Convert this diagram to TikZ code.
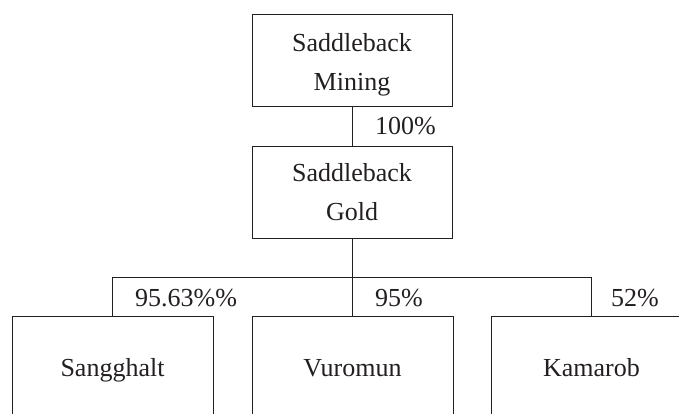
\documentclass[tikz,border=0pt]{standalone}
\usepackage{fontspec}
\setmainfont{Liberation Serif}
\definecolor{ink}{RGB}{35,31,32}
\begin{document}
\begin{tikzpicture}[x=1pt,y=-1pt,
  every node/.style={text=ink},
  box/.style={draw=ink, line width=1pt, minimum width=200pt, minimum height=92pt, inner sep=0pt},
  lowbox/.style={draw=ink, line width=1pt, minimum width=201pt, anchor=north, inner ysep=0pt, inner xsep=0pt, text height=60pt, text depth=55pt},
  boxtext/.style={font=\fontsize{26}{38}\selectfont, align=center},
  pct/.style={font=\fontsize{26}{30}\selectfont, anchor=base west, inner sep=0pt},
  link/.style={draw=ink, line width=1pt}]
\useasboundingbox (0,0) rectangle (679,414);
\node[box] (sm) at (352.5,61) {};
\node[boxtext, anchor=base] (smt1) at (352,52) {Saddleback};
\node[boxtext, anchor=base] (smt2) at (352,90.3) {Mining};
\node[box] (sg) at (352.5,192.5) {};
\node[boxtext, anchor=base] (sgt1) at (352,182) {Saddleback};
\node[boxtext, anchor=base] (sgt2) at (352,220.3) {Gold};
\node[lowbox, boxtext] (sa) at (112.5,315.5) {Sangghalt};
\node[lowbox, boxtext] (vu) at (352.5,315.5) {Vuromun};
\node[lowbox, boxtext] (ka) at (591.5,315.5) {Kamarob};
\draw[link] (sm.south) -- (sg.north);
\coordinate (hub) at (352.5,277.5);
\draw[link] (sg.south) -- (hub);
\draw[link] (sa.north) |- (hub) -| (ka.north);
\draw[link] (hub) -- (vu.north);
\node[pct] (p1) at (375,135) {100\%};
\node[pct] (p2) at (135,306) {95.63\%\%};
\node[pct] (p3) at (375,306) {95\%};
\node[pct] (p4) at (611,306) {52\%};
\end{tikzpicture}
\end{document}
